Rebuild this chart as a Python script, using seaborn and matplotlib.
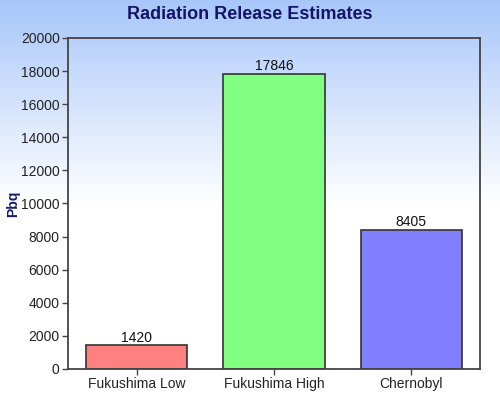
import numpy as np
import pandas as pd
import matplotlib
matplotlib.use("Agg")
import matplotlib.pyplot as plt
import seaborn as sns

# data
categories = ["Fukushima Low", "Fukushima High", "Chernobyl"]
values = [1420, 17846, 8405]
bar_colors = ["#ff8080", "#80ff80", "#8080ff"]

sns.set_style("white")
plt.rcParams["font.family"] = ["Liberation Sans", "DejaVu Sans"]

df = pd.DataFrame({"source": categories, "pbq": values})

fig = plt.figure(figsize=(5.0, 3.93), dpi=100)

# background gradient: light blue at top fading to white
bg = fig.add_axes([0, 0, 1, 1], zorder=0)
grad = np.linspace(0, 1, 256).reshape(-1, 1)
top = np.array([0.66, 0.78, 0.98])
mix = np.clip(grad / 0.52, 0, 1)
img = top[None, None, :] * (1 - mix[..., None]) + np.ones(3)[None, None, :] * mix[..., None]
bg.imshow(img, aspect="auto", extent=[0, 1, 0, 1], origin="upper")
bg.axis("off")

ax = fig.add_axes([68 / 500, 24 / 393, 412 / 500, 331 / 393], zorder=1)
ax.patch.set_alpha(0)

sns.barplot(data=df, x="source", y="pbq", hue="source", palette=bar_colors,
            width=0.74, edgecolor="#333333", linewidth=1.2, legend=False, ax=ax,
            saturation=1)

for i, v in enumerate(values):
    ax.text(i, v + 60, str(v), ha="center", va="bottom", fontsize=10, color="#111111")

ax.set_ylim(0, 20000)
ax.set_yticks(range(0, 20001, 2000))
ax.set_xlim(-0.5, 2.5)
ax.set_xlabel("")
ax.set_ylabel("")
ax.tick_params(axis="both", direction="out", length=4, width=1, color="#444444",
               labelsize=10, labelcolor="#222222", left=True, bottom=True, pad=2)
for s in ax.spines.values():
    s.set_color("#444444")
    s.set_linewidth(1.3)

fig.text(13 / 500, 1 - 204 / 393, "Pbq", rotation=90, ha="center", va="center",
         fontsize=10, fontweight="bold", color="#1a1a6e")
fig.text(0.5, 0.985, "Radiation Release Estimates", ha="center", va="top",
         fontsize=13, fontweight="bold", color="#14146a")

fig.savefig("out.png", dpi=100)
